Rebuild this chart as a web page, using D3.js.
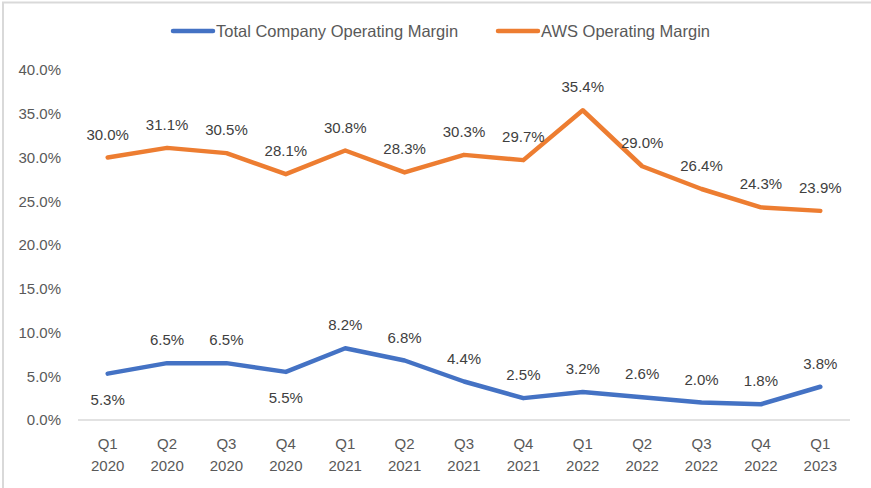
<!DOCTYPE html>
<html>
<head>
<meta charset="utf-8">
<script src="https://cdn.jsdelivr.net/npm/d3@7"></script>
<style>
  body { margin: 0; background: #fff; }
  text { font-family: "Liberation Sans", Arial, sans-serif; }
</style>
</head>
<body>
<div id="chart"></div>
<script>
const quarters = ["Q1", "Q2", "Q3", "Q4", "Q1", "Q2", "Q3", "Q4", "Q1", "Q2", "Q3", "Q4", "Q1"]
const years = ["2020", "2020", "2020", "2020", "2021", "2021", "2021", "2021", "2022", "2022", "2022", "2022", "2023"]
const totalMargin = [5.3, 6.5, 6.5, 5.5, 8.2, 6.8, 4.4, 2.5, 3.2, 2.6, 2.0, 1.8, 3.8]
const awsMargin = [30.0, 31.1, 30.5, 28.1, 30.8, 28.3, 30.3, 29.7, 35.4, 29.0, 26.4, 24.3, 23.9]
const totalLabelBelow = [0, 3]  // indices whose label sits under the point
const yTicks = [0, 5, 10, 15, 20, 25, 30, 35, 40]

const dims = {
  width: 871,
  height: 488,
  margins: { top: 70, right: 21, bottom: 68, left: 78 },
}

const svg = d3.select("#chart").append("svg")
  .attr("width", dims.width)
  .attr("height", dims.height)

// chart frame (top and left edge)
svg.append("path")
  .attr("d", `M3,${dims.height} V2.5 H${dims.width}`)
  .attr("fill", "none")
  .attr("stroke", "#d9d9d9")
  .attr("stroke-width", 2)

const idx = d3.range(quarters.length)
const x = d3.scaleBand()
  .domain(idx)
  .range([dims.margins.left, dims.width - dims.margins.right])
const cx = i => x(i) + x.bandwidth() / 2

const y = d3.scaleLinear()
  .domain([0, 40])
  .range([dims.height - dims.margins.bottom, dims.margins.top])

const fmt = d => d3.format(".1f")(d) + "%"

// y axis labels
const yAxis = svg.append("g")
  .attr("transform", `translate(${dims.margins.left - 17},0)`)
  .call(d3.axisLeft(y).tickValues(yTicks).tickFormat(fmt).tickSize(0).tickPadding(0))
yAxis.select(".domain").remove()
yAxis.selectAll("text")
  .attr("font-family", "Liberation Sans, Arial, sans-serif")
  .attr("font-size", "15px")
  .attr("fill", "#595959")

// x axis line
svg.append("line")
  .attr("x1", dims.margins.left)
  .attr("x2", dims.width - dims.margins.right)
  .attr("y1", y(0))
  .attr("y2", y(0))
  .attr("stroke", "#d9d9d9")
  .attr("stroke-width", 1.5)

// x axis labels (two lines)
const xLabels = svg.append("g")
  .selectAll("text")
  .data(idx)
  .join("text")
  .attr("x", i => cx(i))
  .attr("text-anchor", "middle")
  .attr("font-size", "15px")
  .attr("fill", "#595959")
xLabels.append("tspan")
  .attr("x", i => cx(i))
  .attr("y", y(0) + 29)
  .text(i => quarters[i])
xLabels.append("tspan")
  .attr("x", i => cx(i))
  .attr("y", y(0) + 51)
  .text(i => years[i])

const line = d3.line()
  .x((d, i) => cx(i))
  .y(d => y(d))

const series = [
  { values: totalMargin, color: "#4472C4" },
  { values: awsMargin, color: "#ED7D31" },
]

series.forEach((s, si) => {
  svg.append("path")
    .datum(s.values)
    .attr("d", line)
    .attr("fill", "none")
    .attr("stroke", s.color)
    .attr("stroke-width", 4.5)
    .attr("stroke-linejoin", "round")
    .attr("stroke-linecap", "round")

  svg.append("g")
    .selectAll("text")
    .data(s.values)
    .join("text")
    .attr("x", (d, i) => cx(i))
    .attr("y", (d, i) => (si === 0 && totalLabelBelow.includes(i)) ? y(d) + 31 : y(d) - 18)
    .attr("text-anchor", "middle")
    .attr("font-size", "15px")
    .attr("fill", "#404040")
    .text(d => fmt(d))
})

// legend
const legendItems = [
  { name: "Total Company Operating Margin", color: "#4472C4", x: 173 },
  { name: "AWS Operating Margin", color: "#ED7D31", x: 498 },
]
const legend = svg.append("g")
  .selectAll("g")
  .data(legendItems)
  .join("g")
  .attr("transform", d => `translate(${d.x},31)`)
legend.append("line")
  .attr("x1", 0)
  .attr("x2", 40)
  .attr("stroke", d => d.color)
  .attr("stroke-width", 4.5)
  .attr("stroke-linecap", "round")
legend.append("text")
  .attr("x", 43)
  .attr("y", 6)
  .attr("font-size", "16.5px")
  .attr("fill", "#595959")
  .text(d => d.name)
</script>
</body>
</html>
